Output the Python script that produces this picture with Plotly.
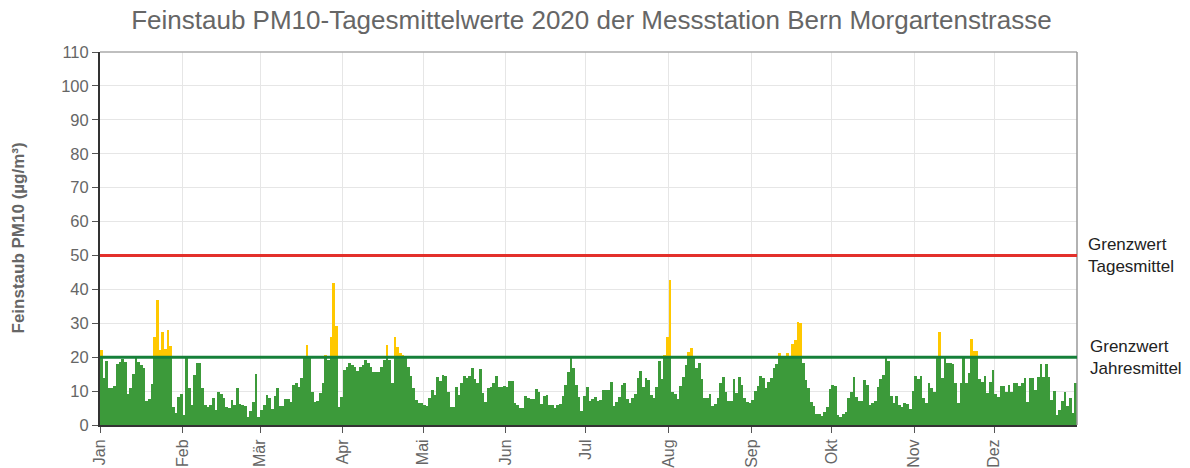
import datetime as dt
import plotly.graph_objects as go

# Daily PM10 means 2020 (µg/m³), one list per month
jan = [22, 14, 19, 11, 11, 11.5, 18, 18.6, 19.4, 18.6, 9, 11, 15, 20.3, 18.6, 17.6, 16.7, 7, 7.8, 12,
       26, 36.8, 22, 27.3, 22.5, 28, 23.3, 5.4, 3.4, 8.3, 9]
feb = [3, 20, 10.8, 6, 14.7, 18.2, 18.2, 10.8, 5.9, 5.4, 5.9, 7.9, 4.4, 9.6, 9.1, 7.9, 5.4, 4.9, 7.4, 5.9,
       11, 6.2, 5.9, 5.6, 2.5, 4.2, 6.9, 15, 2.5]
mar = [4.4, 5.9, 8.8, 7.9, 4.6, 8.6, 10.8, 5.6, 5.6, 7.6, 7.6, 6.9, 11.8, 12.3, 11.3, 13.8, 20, 23.5, 20, 9.8,
       6.9, 7.2, 9.5, 12.3, 20.6, 19.2, 26, 42, 29.2, 5.4, 8.4]
apr = [16.2, 17.2, 18.4, 17.7, 17.2, 15.9, 17.2, 17.7, 19.2, 18.2, 17.2, 15.5, 15.5, 15.7, 17.2, 19.2, 23.6,
       19.2, 12.3, 26, 23, 21.3, 20.6, 20, 17.2, 14.5, 10.8, 7.4, 6.4, 6.6]
mai = [5.9, 5.7, 8.1, 10.3, 8.8, 14.1, 13, 14.7, 14.5, 9.8, 5.4, 5.4, 11.3, 8.8, 12.3, 14.5, 13.8, 14.5, 16.9,
       13.5, 12.5, 16.4, 9.5, 6.9, 10.8, 11.1, 12.3, 14.5, 11.1, 11.3, 11.5]
jun = [11.1, 13, 13, 6.6, 5.9, 4.9, 5.1, 8.6, 8.1, 7.7, 7.7, 10.5, 9.8, 6.2, 8.6, 8.8, 5.9, 5.9, 5.1, 5.9,
       6.2, 8.6, 11.8, 15.7, 19.7, 16.9, 11.8, 8.4, 4.1, 8.6]
jul = [11.3, 7.1, 7.6, 8.2, 7.1, 7.4, 10.3, 10.3, 10.3, 12.8, 5.6, 6.9, 8.4, 11.8, 12.3, 7.6, 6.4, 7.9, 9, 13.8,
       15.9, 11.3, 13.8, 13.3, 8.8, 7.9, 11.3, 18.9, 13.6, 20.6, 25.9]
aug = [42.8, 9.8, 9, 7.7, 11.5, 14.3, 17.7, 21.6, 22.6, 20, 16.7, 18.2, 13.5, 8.1, 7.9, 9.1, 5.6, 6.2, 7.9,
       12.3, 14.3, 9.8, 7.1, 7.1, 13.5, 9.5, 14.3, 11.8, 8.1, 6.7, 6.4]
sep = [7.4, 10.1, 11.5, 14.5, 13.8, 10.8, 12.8, 14, 16.9, 17.9, 21.1, 19.7, 19.7, 21.3, 20, 23.9, 25, 30.3, 30,
       18.2, 13.3, 10.8, 6.7, 5.6, 3.2, 3.2, 2.8, 3.7, 5.4, 10.5]
okt = [11.8, 11.6, 2.9, 2.5, 3.2, 3.9, 7.9, 9.8, 14.1, 8.4, 7.1, 7.1, 13.3, 11.8, 5.9, 6.6, 7.1, 11.3, 13.5,
       14.7, 20, 18.9, 8.6, 6.4, 8.7, 5.9, 5.4, 6.6, 6.1, 4.6, 10]
nov = [14.5, 13.5, 14.5, 8.1, 6.4, 12.3, 10.8, 9.6, 20, 27.3, 13.8, 19.9, 18.4, 18.2, 17.9, 12.3, 6.4, 12.5,
       19.7, 12.3, 15.2, 25.3, 21.8, 21.8, 13.5, 12.8, 14.5, 9.5, 12.8, 16.2]
dez = [9.1, 8.4, 11.6, 11.5, 9.8, 11.8, 9.8, 12.3, 12.5, 11.5, 12.5, 13.8, 6.9, 13.8, 14, 10.3, 14.1, 17.9,
       14.1, 17.9, 14.1, 7.4, 10.1, 2.9, 4.4, 7.1, 9.6, 5.6, 8.1, 3.4, 12.3]

month_labels = ["Jan", "Feb", "Mär", "Apr", "Mai", "Jun", "Jul", "Aug", "Sep", "Okt", "Nov", "Dez"]
grenzwert_tag = 50
grenzwert_jahr = 20
title = "Feinstaub PM10-Tagesmittelwerte 2020 der Messstation Bern Morgartenstrasse"
ytitle = "Feinstaub PM10 (µg/m³)"

months = [jan, feb, mar, apr, mai, jun, jul, aug, sep, okt, nov, dez]
dates, values = [], []
for m, vals in enumerate(months, start=1):
    for d, v in enumerate(vals, start=1):
        dates.append(dt.datetime(2020, m, d, 12))
        values.append(v)

base = [min(v, grenzwert_jahr) for v in values]
over = [max(v - grenzwert_jahr, 0) for v in values]
day_ms = 86400000

GREEN = "#3c9a3a"
YELLOW = "#ffc800"
FONT = "Liberation Sans, Arial, sans-serif"

fig = go.Figure()
fig.add_trace(go.Bar(x=dates, y=base, width=day_ms, marker=dict(color=GREEN, line=dict(width=0)),
                     showlegend=False))
fig.add_trace(go.Bar(x=dates, y=over, width=day_ms, marker=dict(color=YELLOW, line=dict(width=0)),
                     showlegend=False))

tickvals = [dt.datetime(2020, m, 1) for m in range(1, 13)]

fig.update_layout(
    width=1190, height=468,
    margin=dict(l=100, r=113, t=52, b=43, autoexpand=False),
    paper_bgcolor="white", plot_bgcolor="white",
    barmode="stack", bargap=0,
    font=dict(family=FONT, color="#666666"),
    title=dict(text=title, x=0.497, xref="container", xanchor="center",
               y=1 - 20 / 468, yref="container", yanchor="middle",
               font=dict(size=26, color="#666666", family=FONT)),
    xaxis=dict(type="date", range=[dt.datetime(2020, 1, 1), dt.datetime(2021, 1, 1)],
               tickvals=tickvals, ticktext=month_labels, tickangle=-90,
               tickfont=dict(size=16, color="#666666"), automargin=False,
               showgrid=True, gridcolor="#e6e6e6", gridwidth=1,
               showline=True, linecolor="#333333", linewidth=2,
               ticks="outside", ticklen=6, tickcolor="#555555", zeroline=False),
    yaxis=dict(range=[0, 110], dtick=10, tick0=0, automargin=False,
               tickfont=dict(size=16.5, color="#666666"),
               showgrid=True, gridcolor="#e6e6e6", gridwidth=1,
               showline=True, linecolor="#333333", linewidth=2,
               ticks="outside", ticklen=6, tickcolor="#555555", zeroline=False),
    annotations=[
        dict(text="<b>" + ytitle + "</b>", xref="paper", yref="paper", x=(18 - 100) / 977, y=0.5,
             textangle=-90, showarrow=False, xanchor="center", yanchor="middle",
             font=dict(size=17, color="#666666", family=FONT)),
        dict(text="Grenzwert<br>Tagesmittel", xref="paper", yref="y", x=(1086 - 100) / 977,
             y=grenzwert_tag, xanchor="left", yanchor="middle", align="left", showarrow=False,
             font=dict(size=17, color="#222222", family=FONT)),
        dict(text="Grenzwert<br>Jahresmittel", xref="paper", yref="y", x=(1088 - 100) / 977,
             y=grenzwert_jahr, xanchor="left", yanchor="middle", align="left", showarrow=False,
             font=dict(size=17, color="#222222", family=FONT)),
    ],
)

fig.add_shape(type="line", xref="paper", yref="paper", x0=0, x1=1, y0=1, y1=1,
              line=dict(color="#aaaaaa", width=1.5))
fig.add_shape(type="line", xref="paper", yref="paper", x0=1, x1=1, y0=0, y1=1,
              line=dict(color="#999999", width=1.5))
fig.add_hline(y=grenzwert_tag, line=dict(color="#e3302b", width=3))
fig.add_hline(y=grenzwert_jahr, line=dict(color="#16803a", width=3))

fig.write_html("out.html", config={"displayModeBar": False},
               post_script="document.body.style.margin='0px';document.body.style.overflow='hidden';")
